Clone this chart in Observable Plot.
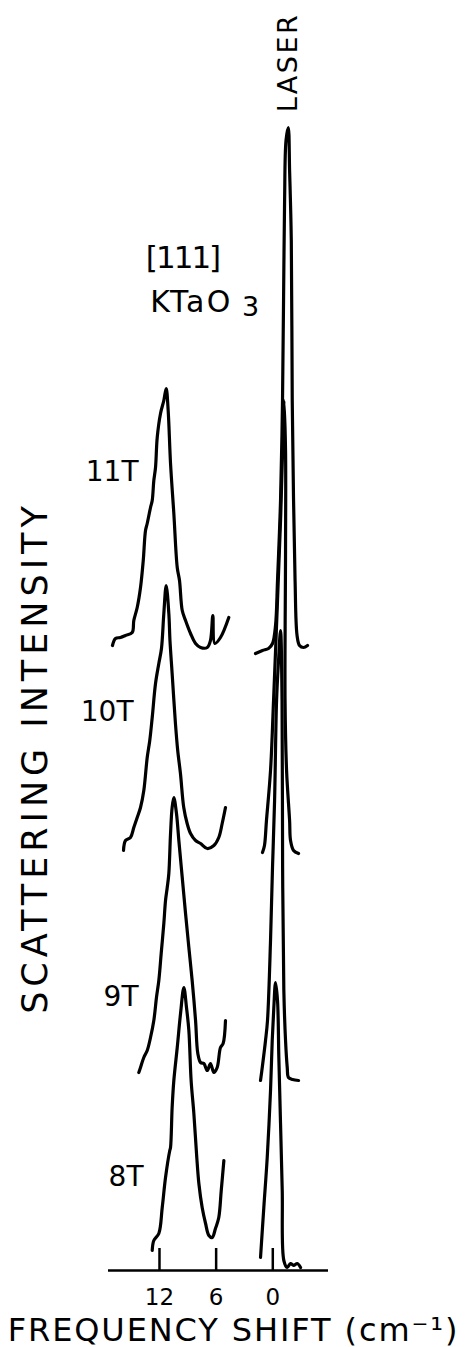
<!DOCTYPE html>
<html>
<head>
<meta charset="utf-8">
<script src="https://cdn.jsdelivr.net/npm/d3@7"></script>
<script src="https://cdn.jsdelivr.net/npm/@observablehq/plot@0.6"></script>
<style>
  html, body { margin: 0; padding: 0; background: #fff; }
  #chart { width: 466px; height: 1347px; }
</style>
</head>
<body>
<div id="chart"></div>
<script>
// Magnetic fields of the four stacked spectra
const fields = ["11T", "10T", "9T", "8T"];
// Vertical offset of each spectrum (arbitrary intensity units)
const offsets = [62.5, 41.8, 19.2, 0.8];
// Frequency-shift axis ticks (cm^-1)
const xTicks = [12, 6, 0];

// Phonon segments: [frequency shift (cm^-1), relative intensity]
const phonon11T = [[16.98,0.0],[16.66,0.7],[16.13,0.8],[15.60,1.0],[14.89,1.3],[14.72,2.5],[14.36,3.8],[14.01,5.8],[13.72,8.5],[13.48,11.5],[13.30,12.2],[12.95,13.8],[12.77,14.5],[12.60,16.5],[12.42,17.8],[12.24,20.8],[11.89,23.2],[11.54,24.5],[11.29,25.7],[11.08,23.5],[10.83,18.2],[10.48,13.2],[10.12,7.8],[9.88,6.5],[9.59,3.5],[9.24,2.5],[8.71,1.2],[8.18,0.2],[7.65,-0.2],[6.94,-0.2],[6.60,0.5],[6.35,3.0],[6.14,0.2],[5.54,0.8],[4.66,2.8]];
const phonon10T = [[15.81,0.2],[15.60,1.2],[15.07,1.5],[14.72,2.5],[14.36,3.5],[14.01,4.5],[13.66,6.2],[13.30,9.5],[13.03,11.2],[12.77,13.5],[12.42,16.9],[12.07,18.9],[11.79,20.4],[11.54,23.9],[11.29,26.7],[11.01,23.9],[10.89,21.2],[10.66,17.9],[10.31,12.9],[10.07,10.2],[9.78,7.9],[9.43,4.5],[9.07,2.9],[8.71,1.9],[8.18,1.2],[7.65,0.9],[6.94,0.4],[6.24,0.7],[5.72,1.5],[5.36,2.9],[5.01,4.5]];
const phonon9T = [[14.19,0.6],[14.01,1.1],[13.66,2.1],[13.30,2.8],[12.95,4.1],[12.60,5.8],[12.32,8.1],[12.07,9.8],[11.82,12.5],[11.54,15.5],[11.36,17.8],[11.18,19.1],[11.01,20.5],[10.83,24.5],[10.66,27.1],[10.48,28.1],[10.20,26.5],[9.95,23.8],[9.60,20.2],[9.24,16.5],[8.89,13.1],[8.54,9.8],[8.18,5.8],[7.94,2.5],[7.65,1.6],[7.30,1.5],[6.94,0.8],[6.60,1.5],[6.24,0.6],[5.89,1.1],[5.54,3.1],[5.26,3.5],[5.01,5.8]];
const phonon8T = [[12.77,1.2],[12.60,2.2],[12.07,2.9],[11.71,5.5],[11.36,8.5],[10.91,11.2],[10.83,11.5],[10.66,15.5],[10.48,18.2],[10.12,21.5],[9.77,24.9],[9.42,27.5],[9.14,25.5],[8.89,23.2],[8.65,18.2],[8.36,14.9],[8.05,10.5],[7.83,7.9],[7.48,5.5],[7.12,3.9],[6.77,2.7],[6.42,2.5],[6.07,3.4],[5.72,4.5],[5.46,7.2],[5.18,10.2]];

// Laser segments: [frequency shift (cm^-1), relative intensity]
const laser11T = [[1.83,-0.8],[1.09,-0.5],[0.45,-0.3],[0.03,0.2],[-0.29,2.0],[-0.50,6.5],[-0.82,14.5],[-1.03,24.5],[-1.14,34.5],[-1.25,44.5],[-1.40,50.5],[-1.64,51.8],[-1.78,47.5],[-1.96,40.5],[-2.06,24.5],[-2.20,14.5],[-2.36,6.5],[-2.57,1.0],[-2.83,0.0],[-3.26,-0.2],[-3.68,0.0]];
const laser10T = [[1.09,0.0],[0.88,0.7],[0.67,3.2],[0.24,8.2],[-0.08,15.2],[-0.50,25.2],[-0.82,33.2],[-1.04,40.2],[-1.19,45.2],[-1.35,40.2],[-1.35,30.2],[-1.30,15.2],[-1.46,8.2],[-1.78,3.2],[-1.88,1.2],[-2.20,0.2],[-2.73,-0.1]];
const laser9T = [[1.30,-0.2],[1.09,1.3],[0.77,3.8],[0.56,5.8],[0.24,13.8],[0.03,21.1],[-0.19,27.8],[-0.40,37.8],[-0.61,41.8],[-0.82,44.8],[-0.98,37.8],[-1.04,21.1],[-1.17,8.8],[-1.35,3.8],[-1.53,1.1],[-1.66,0.1],[-2.09,-0.1],[-2.73,-0.2]];
const laser8T = [[1.30,0.5],[0.95,5.5],[0.59,10.5],[0.24,17.2],[0.06,22.2],[-0.11,25.5],[-0.29,28.0],[-0.50,26.2],[-0.64,20.5],[-0.82,13.9],[-1.00,7.2],[-1.17,0.2],[-1.53,-0.5],[-1.88,-0.1],[-2.20,-0.3],[-2.59,-0.1],[-2.94,-0.5]];

const phonons = [phonon11T, phonon10T, phonon9T, phonon8T];
const lasers = [laser11T, laser10T, laser9T, laser8T];

// Build a tidy table for the line mark
const rows = [];
fields.forEach((f, i) => {
  [["phonon", phonons[i]], ["laser", lasers[i]]].forEach(([kind, pts]) => {
    pts.forEach(([s, v]) => rows.push({field: f, key: f + "-" + kind, shift: s, intensity: v + offsets[i]}));
  });
});

const font = "DejaVu Sans, sans-serif";

const chart = Plot.plot({
  width: 466,
  height: 1347,
  marginLeft: 108,
  marginRight: 138,
  marginTop: 20,
  marginBottom: 77,
  x: {domain: [17.4, -5.9], axis: null},
  y: {domain: [0, 125], axis: null},
  style: {fontFamily: font, background: "white", color: "black", overflow: "visible"},
  marks: [
    Plot.ruleY([0], {stroke: "black", strokeWidth: 2.5}),
    Plot.ruleX(xTicks, {y1: 0, y2: 2.2, stroke: "black", strokeWidth: 2.5}),
    Plot.text(xTicks, {x: d => d, y: 0, dy: 27, text: d => String(d), fontSize: 23, fill: "black"}),
    Plot.line(rows, {x: "shift", y: "intensity", z: "key", stroke: "black", strokeWidth: 3.2, strokeLinejoin: "round", strokeLinecap: "round", curve: "catmull-rom"}),
    // field labels
    Plot.text(fields, {x: [14.22, 14.75, 14.22, 13.69], y: offsets.map((o, i) => o + [17.3, 14.0, 8.1, 8.5][i]), text: d => d, textAnchor: "end", fontSize: 28, fill: "black"}),
    // annotations
    Plot.text(["[111]"], {x: 9.56, y: 101.2, text: d => d, fontSize: 31, fill: "black"}),
    Plot.text(["KTaO"], {x: 8.6, y: 96.8, text: d => d, fontSize: 30, fill: "black"}),
    Plot.text(["3"], {x: 2.36, y: 96.3, text: d => d, fontSize: 27, fill: "black"}),
    Plot.text(["LASER"], {x: -1.67, y: 120.8, text: d => d, rotate: -90, fontSize: 27, fill: "black"}),
    Plot.text(["FREQUENCY SHIFT (cm⁻¹)"], {x: 4.26, y: 0, dy: 60, dx: 1, text: d => d, fontSize: 32, fill: "black"}),
    Plot.text(["SCATTERING INTENSITY"], {x: 25.1, y: 51.3, text: d => d, rotate: -90, fontSize: 35, fill: "black"})
  ]
});

const spacing = {
  "FREQUENCY SHIFT (cm⁻¹)": 1.9,
  "SCATTERING INTENSITY": 5,
  "LASER": 2.5,
  "KTaO": 2.5,
  "[111]": -2
};
d3.select(chart).selectAll("text").each(function() {
  const t = this.textContent;
  if (t in spacing) d3.select(this).attr("letter-spacing", spacing[t]);
});
document.getElementById("chart").appendChild(chart);
</script>
</body>
</html>
